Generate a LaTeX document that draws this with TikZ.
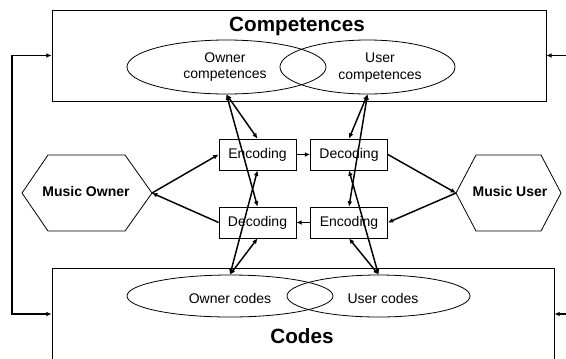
\documentclass[tikz,border=0pt]{standalone}
\usepackage{fontspec}
\setmainfont{Liberation Sans}
\usetikzlibrary{shapes.geometric}
\usetikzlibrary{arrows.meta}

\tikzset{
  areabox/.style={draw, line width=0.6pt, rectangle, inner sep=0pt},
  setellipse/.style={draw, line width=0.6pt, ellipse, inner sep=0pt, minimum height=40.5pt},
  codebox/.style={draw, line width=0.6pt, rectangle, inner sep=0pt, minimum width=57.75pt, minimum height=23.25pt, font=\fontsize{10.5}{12.6}\selectfont},
  plain/.style={align=center, font=\fontsize{10.5}{12.6}\selectfont},
  title/.style={font=\fontsize{15.5}{18}\selectfont\bfseries},
  actor/.style={font=\fontsize{10.5}{12.6}\selectfont\bfseries},
  arr/.style={line width=1.1pt, -{Latex[length=4pt,width=3.6pt]}},
  darr/.style={line width=1.1pt, {Latex[length=4pt,width=3.6pt]}-{Latex[length=4pt,width=3.6pt]}}
}

\begin{document}
\begin{tikzpicture}[x=0.75pt,y=0.75pt,yscale=-1,xscale=1]
\useasboundingbox (0,0) rectangle (566,358);

%Shape: Rectangle [id:compbox] 
\node[areabox, minimum width=370.5pt, minimum height=68.25pt] (comp) at (299,55.5) {};
%Shape: Rectangle [id:codebox] 
\node[areabox, minimum width=376.5pt, minimum height=69pt] (codes) at (303,314) {};

% Text Node
\node[title] (comptitle) at (297,26) {Competences};
% Text Node
\node[title] (codestitle) at (302,336) {Codes};

%Shape: Ellipse [id:owncomp] 
\node[setellipse, minimum width=149.25pt] (owncomp) at (226.5,67) {};
%Shape: Ellipse [id:usercomp] 
\node[setellipse, minimum width=131.25pt] (usercomp) at (367.5,67) {};
%Shape: Ellipse [id:owncodes] 
\node[setellipse, minimum width=154.5pt, minimum height=31.5pt] (owncodes) at (230,296) {};
%Shape: Ellipse [id:usercodes] 
\node[setellipse, minimum width=137.25pt, minimum height=31.5pt] (usercodes) at (378.5,296) {};

% Text Node
\node[plain] (owncomptext) at (225,67) {Owner\\competences};
% Text Node
\node[plain] (usercomptext) at (380,68) {User\\competences};
% Text Node
\node[plain] (owncodestext) at (230,298) {Owner codes};
% Text Node
\node[plain] (usercodestext) at (383,298) {User codes};

%Shape: Hexagon [id:owner] 
\draw[line width=0.6pt] (22,193) -- (48,155) -- (125,155) -- (152,193) -- (125,231) -- (48,231) -- cycle;
\coordinate (ownerR) at (152,193);
\node[actor] (owner) at (86,191) {Music Owner};
%Shape: Hexagon [id:user] 
\draw[line width=0.6pt] (456,193) -- (476,155) -- (541,155) -- (561,193) -- (541,231) -- (476,231) -- cycle;
\coordinate (userL) at (456,193);
\node[actor] (user) at (510,191) {Music User};

%Shape: Rectangle [id:enc1] 
\node[codebox] (encown) at (257.5,154.5) {Encoding};
%Shape: Rectangle [id:dec2] 
\node[codebox] (decuser) at (349,154.5) {Decoding};
%Shape: Rectangle [id:dec1] 
\node[codebox] (decown) at (257.5,222.5) {Decoding};
%Shape: Rectangle [id:enc2] 
\node[codebox] (encuser) at (349,222.5) {Encoding};

%Straight Lines [id:flow] 
\draw[arr] (ownerR) -- (encown.west);
\draw[arr] (encown) -- (decuser);
\draw[arr] (decuser.east) -- (userL);
\draw[arr] (userL) -- (encuser.east);
\draw[arr] (encuser) -- (decown);
\draw[arr] (decown.west) -- (ownerR);

%Straight Lines [id:links] 
\draw[darr] (owncomp.south) -- (encown.north);
\draw[darr] (owncomp.south) -- (decown.north);
\draw[darr] (owncodes.north) -- (decown.south);
\draw[darr] (owncodes.north) -- (encown.south);
\draw[darr] (usercomp.south) -- (decuser.north);
\draw[darr] (usercomp.south) -- (encuser.north);
\draw[darr] (usercodes.north) -- (encuser.south);
\draw[darr] (usercodes.north) -- (decuser.south);

%Straight Lines [id:loop] 
\coordinate (loopTop) at (12,55.5);
\coordinate (loopBot) at (12,314);
\draw[arr] (loopBot) -- (loopTop) -- (comp.west);
\draw[arr] (loopTop) -- (loopBot) -- (codes.west);
\coordinate (compIn) at (566,55.5);
\coordinate (codesIn) at (566,314);
\draw[arr] (compIn) -- (comp.east);
\draw[arr] (codesIn) -- (codes.east);

\end{tikzpicture}
\end{document}
